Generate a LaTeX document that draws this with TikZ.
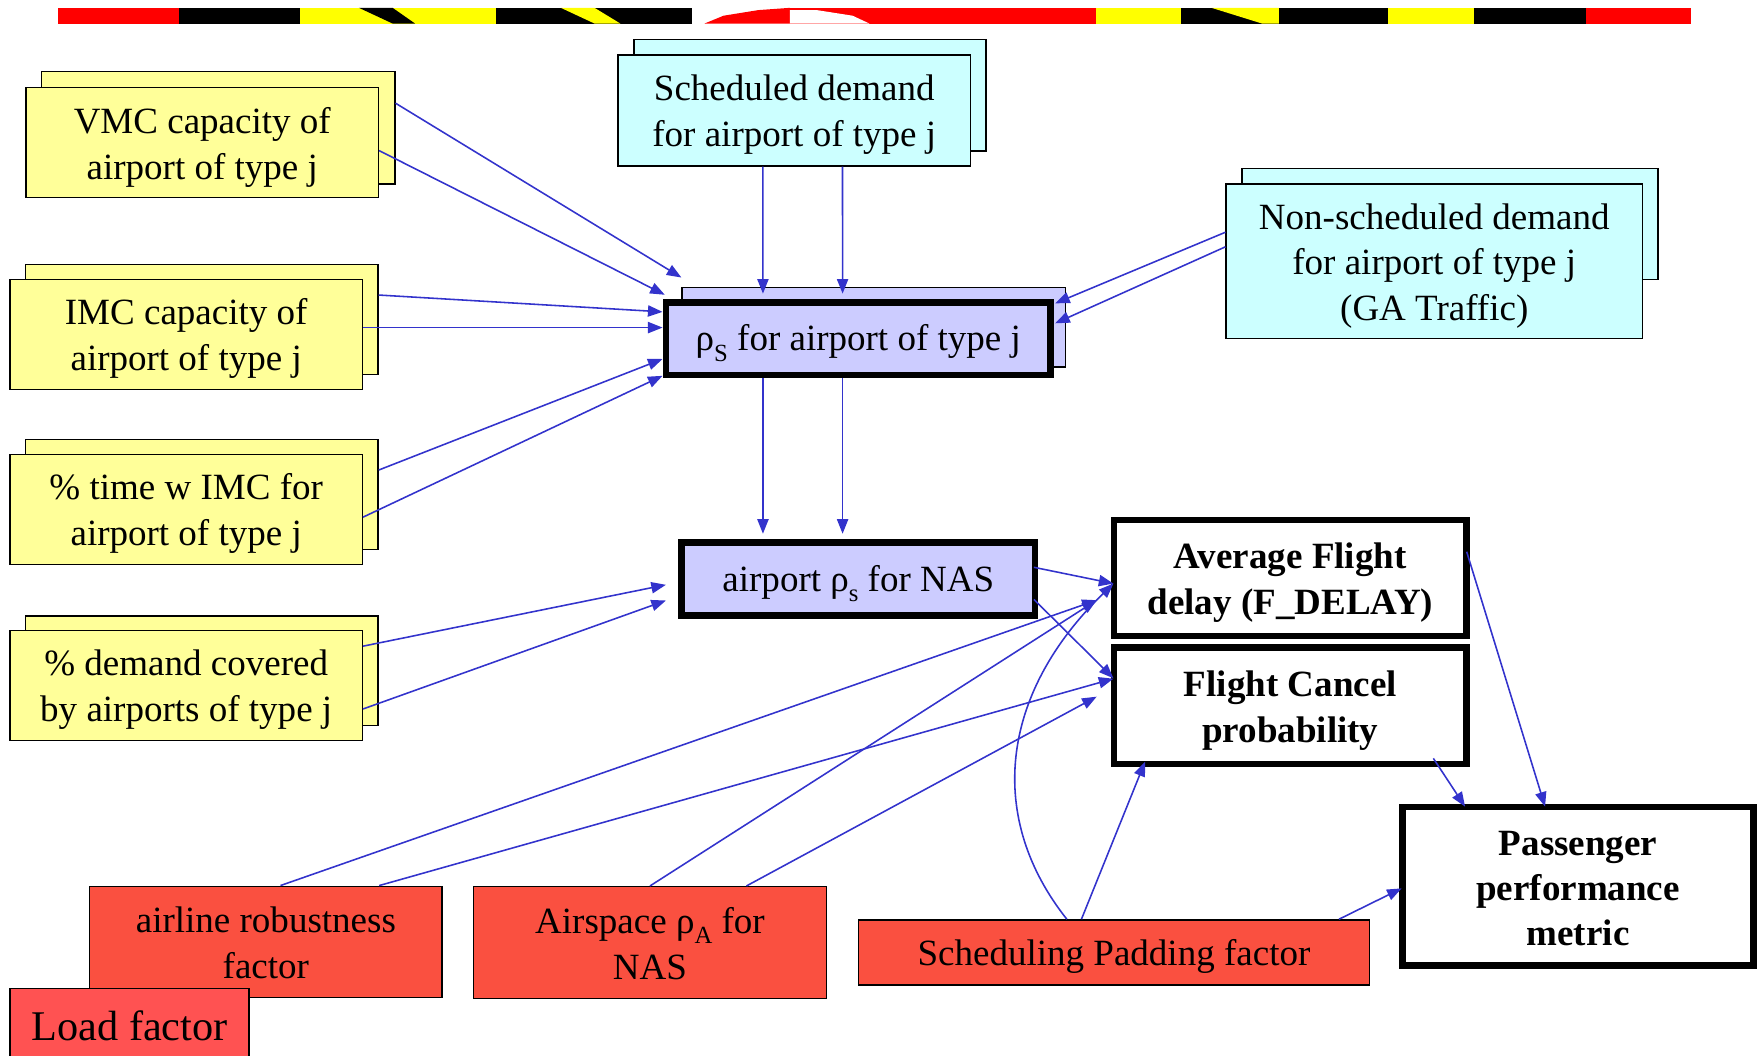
\documentclass[tikz,border=0pt]{standalone}
\usepackage{fontspec}
\setmainfont{Liberation Serif}
\usetikzlibrary{arrows.meta,calc}
\definecolor{ylw}{HTML}{FFFF99}
\definecolor{cyn}{HTML}{CCFFFF}
\definecolor{lav}{HTML}{CCCCFF}
\definecolor{rd}{HTML}{FA5040}
\definecolor{rdl}{HTML}{FF5252}
\definecolor{arrblue}{HTML}{3333CC}
\definecolor{barred}{HTML}{FF0000}
\definecolor{baryel}{HTML}{FFFF00}
\newcommand{\mysub}[1]{\raisebox{-0.28em}{\fontsize{22}{22}\selectfont #1}}
\newcommand{\ts}{\rule{0pt}{0.94em}}
\newcommand{\bs}{\rule[-0.18em]{0pt}{0.18em}}
\begin{document}
\begin{tikzpicture}[x=1pt,y=-1pt,
  box/.style={draw=black, line width=1.2pt, rectangle, inner sep=0pt, align=center,
    font=\fontsize{33}{41}\selectfont},
  ybox/.style={box, fill=ylw, minimum width=314pt, minimum height=98pt},
  cbox/.style={box, fill=cyn},
  lbox/.style={box, fill=lav},
  thick box/.style={box, line width=6pt},
  rbox/.style={box, fill=rd},
  link/.style={draw=arrblue, line width=1.4pt, -{Triangle[length=13pt,width=10pt]}}
]
\useasboundingbox (0,0) rectangle (1568,941);

% ---------- top decorative bar ----------
\fill[barred] (52,7) rectangle (160,21);
\fill[black] (160,7) rectangle (267,21);
\fill[baryel] (267,7) rectangle (442,21);
\fill[black] (320,7) -- (350,7) -- (370,21) -- (350,21) -- cycle;
\fill[black] (442,7) rectangle (617,21);
\fill[baryel] (500,7) -- (530,7) -- (553,21) -- (530,21) -- cycle;
\fill[barred] (628,21) -- (645,14) -- (676,9) -- (704,7) -- (704,21) -- cycle;
\fill[barred] (704,7) rectangle (977,21);
\fill[white] (704,9) -- (728,9) -- (760,14) -- (775,21) -- (704,21) -- cycle;
\fill[baryel] (977,7) rectangle (1053,21);
\fill[black] (1053,7) rectangle (1237,21);
\fill[baryel] (1080,7) -- (1140,7) -- (1140,21) -- (1125,21) -- cycle;
\fill[baryel] (1237,7) rectangle (1314,21);
\fill[black] (1314,7) rectangle (1414,21);
\fill[barred] (1414,7) rectangle (1507,21);

% ---------- yellow input boxes ----------
\node[ybox, minimum width=315pt, minimum height=100pt] (vmcb) at (194.5,114) {};
\node[ybox] (vmc) at (180.3,127.2) {\ts VMC capacity of\\airport of type j\bs};
\node[ybox] (imcb) at (180,285) {};
\node[ybox] (imc) at (166,298) {\ts IMC capacity of\\airport of type j\bs};
\node[ybox] (timeb) at (180,441) {};
\node[ybox] (time) at (166,454) {\ts\% time w IMC for\\airport of type j\bs};
\node[ybox] (demb) at (180,598) {};
\node[ybox] (dem) at (166,611) {\ts\% demand covered\\by airports of type j\bs};

% ---------- cyan demand boxes ----------
\node[cbox, minimum width=314pt, minimum height=99pt] (schedb) at (722,85) {};
\node[cbox, minimum width=314pt, minimum height=99pt] (sched) at (708,98.5) {\ts Scheduled demand\\for airport of type j\bs};
\node[cbox, minimum width=371pt, minimum height=99pt] (nonsb) at (1292.5,199.5) {};
\node[cbox, font=\fontsize{33}{40.5}\selectfont, minimum width=371pt, minimum height=138pt] (nons) at (1278.5,233) {\ts Non-scheduled demand\\for airport of type j\\(GA Traffic)\bs};

% ---------- lavender boxes ----------
\node[lbox, minimum width=342pt, minimum height=71pt] (rhoSb) at (779,291.5) {};
\node[lbox, thick box, minimum width=343pt, minimum height=64.5pt] (rhoS) at (765.1,302) {\ts ρ\mysub{S} for airport of type j\bs};
\node[lbox, thick box, minimum width=315pt, minimum height=65pt] (nas) at (765.1,516.3) {\ts airport ρ\mysub{s} for NAS\bs};

% ---------- white output boxes ----------
\node[box, thick box, fill=white, font=\fontsize{33}{41}\selectfont\bfseries, minimum width=314.4pt, minimum height=103.5pt] (fd) at (1150.2,515.2) {\ts Average Flight\\delay (F\_DELAY)\bs};
\node[box, thick box, fill=white, font=\fontsize{33}{41}\selectfont\bfseries, minimum width=314.4pt, minimum height=104pt] (cancel) at (1150.2,629) {\ts Flight Cancel\\probability\bs};
\node[box, thick box, fill=white, font=\fontsize{33}{40}\selectfont\bfseries, minimum width=312.6pt, minimum height=141.5pt] (pass) at (1406.7,790.2) {\ts Passenger\\performance\\metric\bs};

% ---------- red factor boxes ----------
\node[rbox, minimum width=314pt, minimum height=99pt] (airline) at (237,839.5) {\ts airline robustness\\factor\bs};
\node[rbox, minimum width=315pt, minimum height=99.5pt] (airsp) at (579.4,840.1) {\ts Airspace ρ\mysub{A} for\\NAS\bs};
\node[rbox, minimum width=456pt, minimum height=58pt] (sp) at (993,849) {\ts Scheduling Padding factor\bs};
\node[box, fill=rdl, font=\fontsize{37.7}{45}\selectfont, minimum width=213pt, minimum height=64pt] (load) at (115.5,913) {\ts Load factor\bs};

% ---------- connectors ----------
\draw[link] ([yshift=22pt]vmcb.east) -- ([yshift=8pt]rhoSb.north west);
\draw[link] ([yshift=-7pt]vmc.east) -- ([shift={(2pt,4pt)}]rhoS.north west);
\draw[link] ([yshift=22pt]imcb.east) -- ([yshift=24pt]rhoS.west);
\draw[link] ([yshift=6pt]imc.east) -- ([yshift=10pt]rhoS.west);
\draw[link] ([yshift=22pt]timeb.east) -- ([yshift=-18pt]rhoS.west);
\draw[link] ([yshift=-7pt]time.east) -- ([yshift=-33pt]rhoS.west);
\draw[link] ([yshift=35pt]dem.east) -- ([shift={(-11pt,-5pt)}]nas.west);
\draw[link] ([yshift=-21pt]dem.east) -- ([shift={(-11pt,-19pt)}]nas.west);

\draw[link] ([xshift=-28pt]sched.south) -- ([shift={(-85pt,5pt)}]rhoS.north);
\draw[link] ([xshift=43pt]sched.south) -- ([shift={(-14pt,5pt)}]rhoS.north);
\draw[link] ([yshift=26pt]nons.west) -- ([shift={(1pt,31.6pt)}]rhoS.east);
\draw[link] ([yshift=13pt]nons.west) -- ([shift={(1pt,13.8pt)}]rhoS.east);

\draw[link] ([xshift=-85pt]rhoS.south) -- ([shift={(-85pt,5pt)}]nas.north);
\draw[link] ([xshift=-14pt]rhoS.south) -- ([shift={(-14pt,5pt)}]nas.north);

\draw[link] ([shift={(-4pt,10.6pt)}]nas.east) -- ([shift={(2.5pt,-5pt)}]fd.west);
\draw[link] ([shift={(-4pt,-18pt)}]nas.east) -- ([shift={(2.5pt,24.4pt)}]cancel.west);

\draw[link] ([xshift=13pt]airline.north) -- ([shift={(-12.4pt,-19.8pt)}]fd.west);
\draw[link] ([xshift=101pt]airline.north) -- ([shift={(2.5pt,24pt)}]cancel.west);
\draw[link] (airsp.north) -- ([shift={(-12.4pt,-19.8pt)}]fd.west);
\draw[link] ([xshift=86pt]airsp.north) -- ([shift={(-12.4pt,8pt)}]cancel.west);

\draw[link] ([xshift=-42pt]sp.north) .. controls (880,730) and (890,620) .. ([shift={(2.5pt,-5pt)}]fd.west);
\draw[link] ([xshift=-29pt]sp.north) -- ([shift={(-129.5pt,5pt)}]cancel.south);
\draw[link] ([xshift=-28pt]sp.north east) -- ([shift={(2pt,-1.7pt)}]pass.west);

\draw[link] ([shift={(-3pt,23.4pt)}]fd.east) -- ([shift={(-29.4pt,-2.6pt)}]pass.north);
\draw[link] ([shift={(127.5pt,8pt)}]cancel.south) -- ([shift={(-100.7pt,-2.6pt)}]pass.north);
\end{tikzpicture}
\end{document}
